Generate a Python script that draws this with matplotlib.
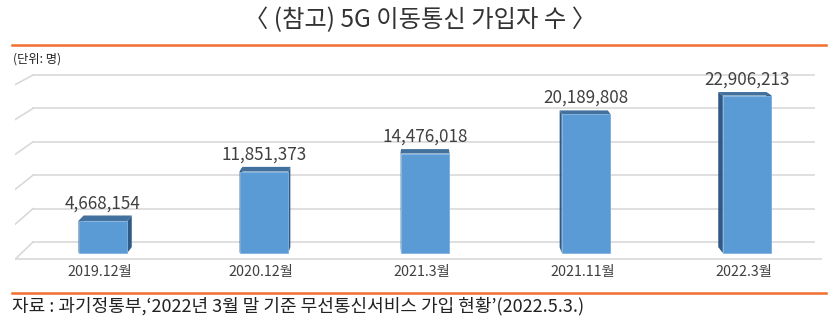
import matplotlib
matplotlib.use("Agg")
import matplotlib.pyplot as plt
from matplotlib.lines import Line2D
from matplotlib.patches import Polygon

plt.rcParams['font.family'] = ['Noto Sans CJK KR', 'DejaVu Sans']

# Data
periods = ['2019.12월', '2020.12월', '2021.3월', '2021.11월', '2022.3월']
subscribers = [4668154, 11851373, 14476018, 20189808, 22906213]
grid_levels = [0, 5, 10, 15, 20, 25]  # millions

title = '〈 (참고) 5G 이동통신 가입자 수 〉'
unit_note = '(단위: 명)'
source = '자료 : 과기정통부,‘2022년 3월 말 기준 무선통신서비스 가입 현황’(2022.5.3.)'

# Simple perspective for the 3D look (depth 0 = back wall, 1 = front of floor)
VX, VY, GROW = 2.0, 56.6, 0.045
def proj(x, v, d):
    s = 1 + GROW * d
    return VX + (x - VX) * s, VY + (v - VY) * s

D_FRONT, D_BACK = 0.65, 0.30
HALF_W = 0.151
WALL_L, WALL_R = -0.505, 4.486

front_c = '#5B9BD5'
top_c = '#41719C'
side_c = '#2E5A85'
grid_c = '#D9D9D9'
text_c = '#404040'
orange = '#F07030'

W, H = 829, 332
fig = plt.figure(figsize=(W / 100, H / 100), dpi=100)
ax = fig.add_axes([15 / W, 1 - 262 / H, 807 / W, 200 / H])
ax.set_xlim(-0.620, 4.537)
ax.set_ylim(-2.994, 26.946)
ax.axis('off')

# back wall grid + left wall diagonals
for g in grid_levels:
    x0, y0 = proj(WALL_L, g, 0)
    x1, y1 = proj(WALL_R, g, 0)
    ax.plot([x0, x1], [y0, y1], color=grid_c, lw=1.2, zorder=1)
    fx, fy = proj(WALL_L, g, 1)
    ax.plot([fx, x0], [fy, y0], color=grid_c, lw=1.2, zorder=1)
# front edge of floor
fx0, fy0 = proj(WALL_L, 0, 1)
fx1, fy1 = proj(WALL_R, 0, 1)
ax.plot([fx0, fx1], [fy0, fy1], color=grid_c, lw=1.2, zorder=1)

for i, (lab, val) in enumerate(zip(periods, subscribers)):
    v = val / 1e6
    xl, xr = i - HALF_W, i + HALF_W
    # side faces
    for xe in (xl, xr):
        pts = [proj(xe, 0, D_FRONT), proj(xe, v, D_FRONT),
               proj(xe, v, D_BACK), proj(xe, 0, D_BACK)]
        ax.add_patch(Polygon(pts, closed=True, fc=side_c, ec='none', zorder=2))
    # top face
    pts = [proj(xl, v, D_FRONT), proj(xr, v, D_FRONT),
           proj(xr, v, D_BACK), proj(xl, v, D_BACK)]
    ax.add_patch(Polygon(pts, closed=True, fc=top_c, ec='none', zorder=3))
    # front face
    pts = [proj(xl, 0, D_FRONT), proj(xr, 0, D_FRONT),
           proj(xr, v, D_FRONT), proj(xl, v, D_FRONT)]
    ax.add_patch(Polygon(pts, closed=True, fc=front_c, ec='#7FB2E0', lw=0.6, zorder=4))

    cx, _ = proj(i, v, D_FRONT)
    _, ty = proj(i, v, D_BACK)
    ax.text(cx, ty + 0.5, f'{val:,}', ha='center', va='bottom',
            fontsize=12.3, color=text_c, zorder=5)
    ax.text(cx - 0.02, -4.5, lab, ha='center', va='center',
            fontsize=10.3, color=text_c, clip_on=False)

# header / footer
fig.text(420 / W, 1 - 20 / H, title, ha='center', va='center',
         fontsize=17.5, color='#333333')
fig.add_artist(Line2D([12 / W, 826 / W], [1 - 45 / H, 1 - 45 / H],
                      color=orange, lw=1.8))
fig.text(13 / W, 1 - 59 / H, unit_note, ha='left', va='center',
         fontsize=8.8, color='#222222')
fig.add_artist(Line2D([12 / W, 826 / W], [1 - 293 / H, 1 - 293 / H],
                      color=orange, lw=1.8))
fig.text(12 / W, 1 - 306 / H, source, ha='left', va='center',
         fontsize=13, color='#222222')

fig.savefig('out.png', dpi=100)
